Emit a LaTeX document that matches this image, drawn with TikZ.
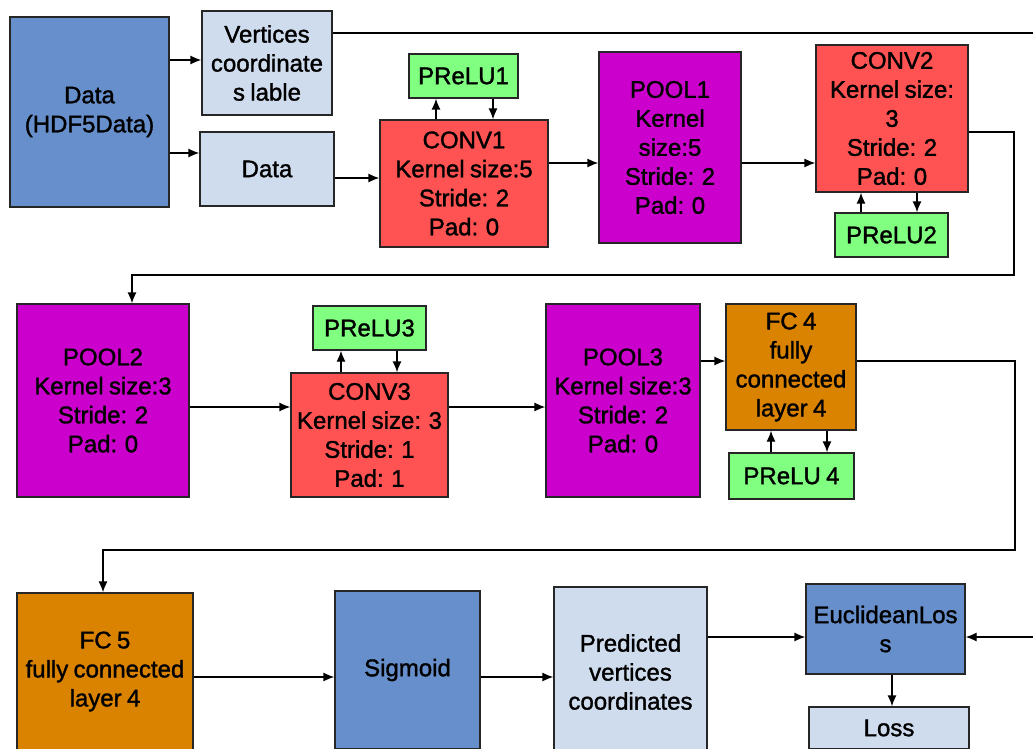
\documentclass[tikz,border=0pt]{standalone}
\usepackage{fontspec}
\setmainfont{Liberation Sans}[FakeBold=1.4,WordSpace=0.8]
\usetikzlibrary{arrows.meta}

\definecolor{dblue}{RGB}{103,143,203}
\definecolor{lblue}{RGB}{207,220,238}
\definecolor{convred}{RGB}{255,82,82}
\definecolor{poolpink}{RGB}{204,0,204}
\definecolor{relugreen}{RGB}{128,255,128}
\definecolor{fcorange}{RGB}{218,131,0}

\begin{document}
\begin{tikzpicture}[x=1pt,y=-1pt,
		blk/.style={draw=black!85,line width=1.3pt,align=center,inner sep=0pt,
			font=\fontsize{24}{29}\selectfont},
		sz/.style 2 args={minimum width=#1pt,minimum height=#2pt},
		inbox/.style={blk,fill=dblue},
		databox/.style={blk,fill=lblue},
		convbox/.style={blk,fill=convred},
		poolbox/.style={blk,fill=poolpink},
		relubox/.style={blk,fill=relugreen},
		fcbox/.style={blk,fill=fcorange},
		>={Latex[length=11pt,width=9pt]}]
	\clip (0,0) rectangle (1033,749);
	\useasboundingbox (0,0) rectangle (1033,749);
	% first row
	\node[inbox,sz={159}{190}] (hdf) at (89.5,112) {Data\\(HDF5Data)};
	\node[databox,sz={130}{104}] (vert) at (267,63) {Vertices\\coordinate\\s lable};
	\node[databox,sz={134}{74}] (dat) at (267,169) {Data};
	\node[relubox,sz={109}{44}] (prelu1) at (463.5,76) {PReLU1};
	\node[convbox,sz={168}{127}] (conv1) at (464,183.5) {CONV1\\Kernel size:5\\Stride: 2\\Pad: 0};
	\node[poolbox,sz={142}{191}] (pool1) at (670,147.5) {POOL1\\Kernel\\size:5\\Stride: 2\\Pad: 0};
	\node[convbox,sz={152}{147}] (conv2) at (892,118.5) {CONV2\\Kernel size:\\3\\Stride: 2\\Pad: 0};
	\node[relubox,sz={113}{44}] (prelu2) at (891.5,235) {PReLU2};
	% second row
	\node[poolbox,sz={172}{193}] (pool2) at (103,400.5) {POOL2\\Kernel size:3\\Stride: 2\\Pad: 0};
	\node[relubox,sz={113}{44}] (prelu3) at (369.5,328) {PReLU3};
	\node[convbox,sz={157}{124}] (conv3) at (369.5,435) {CONV3\\Kernel size: 3\\Stride: 1\\Pad: 1};
	\node[poolbox,sz={154}{193}] (pool3) at (623,400.5) {POOL3\\Kernel size:3\\Stride: 2\\Pad: 0};
	\node[fcbox,sz={130}{126}] (fc4) at (791,367) {FC 4\\fully\\connected\\layer 4};
	\node[relubox,sz={125}{46}] (prelu4) at (791.5,476) {PReLU 4};
	% third row
	\node[fcbox,sz={176}{157}] (fc5) at (105,671.5) {FC 5\\fully connected\\layer 4};
	\node[inbox,sz={145}{158}] (sigm) at (407.5,670) {Sigmoid};
	\node[databox,sz={153}{170}] (pred) at (630.5,672) {Predicted\\vertices\\coordinates};
	\node[inbox,sz={159}{90}] (eucl) at (885.5,629) {EuclideanLos\\s};
	\node[databox,sz={160}{42}] (loss) at (889,728) {Loss};

	\path[->,line width=1.3pt]
	(hdf.east |- 0,60) edge (vert.west |- 0,60)
	(hdf.east |- 0,153) edge (dat.west |- 0,153)
	(dat.east |- 0,178) edge (conv1.west |- 0,178)
	(conv1.east |- 0,163) edge (pool1.west |- 0,163)
	(pool1.east |- 0,163) edge (conv2.west |- 0,163)
	(conv1.north -| 436,0) edge (prelu1.south -| 436,0)
	(prelu1.south -| 493,0) edge (conv1.north -| 493,0)
	(prelu2.north -| 861,0) edge (conv2.south -| 861,0)
	(conv2.south -| 917,0) edge (prelu2.north -| 917,0)
	(pool2.east |- 0,407) edge (conv3.west |- 0,407)
	(conv3.east |- 0,407) edge (pool3.west |- 0,407)
	(conv3.north -| 341,0) edge (prelu3.south -| 341,0)
	(prelu3.south -| 397,0) edge (conv3.north -| 397,0)
	(pool3.east |- 0,361) edge (fc4.west |- 0,361)
	(prelu4.north -| 771,0) edge (fc4.south -| 771,0)
	(fc4.south -| 827,0) edge (prelu4.north -| 827,0)
	(fc5.east |- 0,677) edge (sigm.west |- 0,677)
	(sigm.east |- 0,677) edge (pred.west |- 0,677)
	(pred.east |- 0,637) edge (eucl.west |- 0,637)
	(eucl.south -| 892,0) edge (loss.north -| 892,0);

	% long returns
	\draw[->,line width=1.3pt] (conv2.east |- 0,132) -- (1014,132) -- (1014,275)
		-- (132,275) -- (pool2.north -| 132,0);
	\draw[->,line width=1.3pt] (fc4.east |- 0,361) -- (1015,361) -- (1015,550)
		-- (103,550) -- (fc5.north -| 103,0);
	\draw[->,line width=1.3pt] (vert.east |- 0,33) -- (1045,33) -- (1045,637)
		-- (eucl.east |- 0,637);
\end{tikzpicture}
\end{document}
